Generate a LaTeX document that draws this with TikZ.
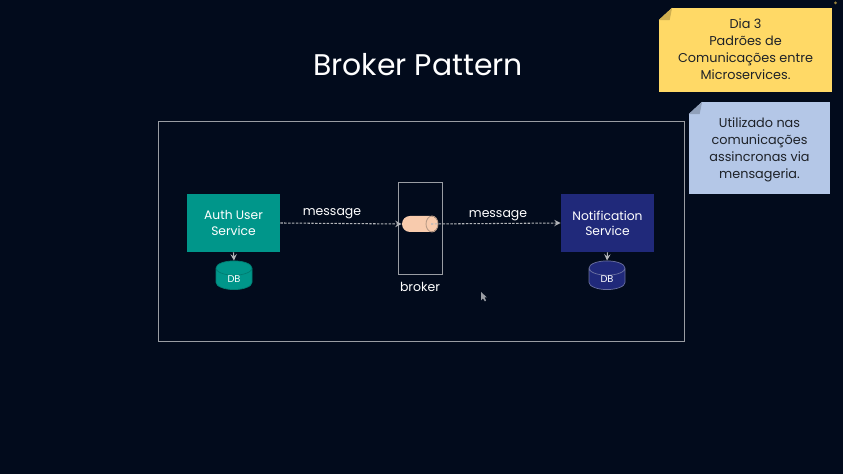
\documentclass[tikz,border=0pt]{standalone}
\usepackage{fontspec}
\setmainfont{Poppins}
\usetikzlibrary{shapes.geometric}

\definecolor{slidebg}{HTML}{020B1C}
\definecolor{framegray}{HTML}{9A9DA3}
\definecolor{flowgray}{HTML}{B4B6BA}
\definecolor{authteal}{HTML}{00968A}
\definecolor{authtealdark}{HTML}{007D72}
\definecolor{notifblue}{HTML}{20297A}
\definecolor{notifbluedark}{HTML}{6A70A0}
\definecolor{queuepeach}{HTML}{F8CBAD}
\definecolor{queueedge}{HTML}{B99B86}
\definecolor{noteyellow}{HTML}{FFD966}
\definecolor{yellowfold}{HTML}{CFAF50}
\definecolor{noteblue}{HTML}{B4C7E7}
\definecolor{bluefold}{HTML}{90A0BA}
\definecolor{notetext}{HTML}{1E2228}

\tikzset{
	serviceBox/.style={minimum width=1.86cm, minimum height=1.16cm, inner sep=0pt, align=center, text=white, font=\fontsize{7}{8.6}\selectfont},
	dbNode/.style={shape=cylinder, shape border rotate=90, shape aspect=1.1, minimum width=0.72cm, minimum height=0.46cm, inner sep=0pt, text=white, font=\fontsize{5.6}{7}\selectfont},
	flowArrow/.style={->, dash pattern=on 1.4pt off 0.8pt, flowgray, line width=0.6pt},
	dbArrow/.style={->, flowgray, line width=0.6pt},
	labelText/.style={text=white, font=\fontsize{7.1}{9}\selectfont, inner sep=0pt},
	noteBox/.style={inner sep=0pt, align=center, text=notetext, font=\fontsize{7.3}{9.6}\selectfont},
}

\begin{document}
\begin{tikzpicture}[>=stealth]
	\useasboundingbox[fill=slidebg] (0,0) rectangle (16.86,9.48);

	% Title
	\node[text=white, font=\fontsize{17}{21}\selectfont, inner sep=0pt] (title) at (8.36,8.18) {Broker Pattern};

	% Frame
	\node[draw=framegray, line width=0.5pt, minimum width=10.51cm, minimum height=4.4cm, inner sep=0pt] (frame) at (8.425,4.86) {};

	% Services
	\node[serviceBox, fill=authteal] (auth) at (4.67,5.02) {Auth User\\Service};
	\node[serviceBox, fill=notifblue] (notif) at (12.15,5.02) {Notification\\Service};

	% Databases
	\node[dbNode, fill=authteal, draw=authtealdark] (authdb) at (4.68,3.90) {DB};
	\node[dbNode, fill=notifblue, draw=notifbluedark] (notifdb) at (12.14,3.90) {DB};

	% Broker
	\node[draw=framegray, line width=0.5pt, minimum width=0.88cm, minimum height=1.84cm, inner sep=0pt] (broker) at (8.40,4.92) {};
	\node[fill=queuepeach, rounded corners=0.16cm, minimum width=0.72cm, minimum height=0.32cm, inner sep=0pt] (queue) at (8.40,5.0) {};
	\draw[queueedge, line width=0.5pt] (8.64,5.0) ellipse (0.12 and 0.16);
	\node[labelText] (brokerlabel) at (8.40,3.74) {broker};
	\coordinate (queueout) at (8.62,5.0);

	% Arrows
	\draw[flowArrow] (auth.east) -- (queue.west);
	\draw[flowArrow] (queueout) -- (notif.west);
	\draw[dbArrow] (auth.south) -- (authdb.north);
	\draw[dbArrow] (notif.south) -- (notifdb.north);
	\node[labelText] (msgin) at (6.64,5.20) {message};
	\node[labelText] (msgout) at (9.96,5.16) {message};

	% Notes
	\node[noteBox, fill=noteyellow, minimum width=3.46cm, minimum height=1.68cm] (dianote) at (14.91,8.48) {Dia 3\\Padrões de\\Comunicações entre\\Microservices.\rule[-0.04cm]{0pt}{0.04cm}};
	\node[noteBox, fill=noteblue, minimum width=2.82cm, minimum height=1.84cm] (usenote) at (15.19,6.52) {\rule{0pt}{0.27cm}Utilizado nas\\comunicações\\assincronas via\\mensageria.};
	\foreach \n/\c in {dianote/yellowfold, usenote/bluefold} {
		\fill[slidebg] (\n.north west) -- ++(0.27,0) -- ++(-0.27,-0.25) -- cycle;
		\fill[\c] ([xshift=0.27cm]\n.north west) -- ++(-0.27,-0.25) -- ++(0.22,0) -- cycle;
	}

	% Cursor
	\fill[framegray] (9.62,3.64) -- (9.62,3.47) -- (9.66,3.51) -- (9.70,3.45) -- (9.72,3.47) -- (9.69,3.53) -- (9.74,3.53) -- cycle;
	\fill[noteyellow!60!black] (16.71,9.42) circle (0.03);
\end{tikzpicture}
\end{document}
